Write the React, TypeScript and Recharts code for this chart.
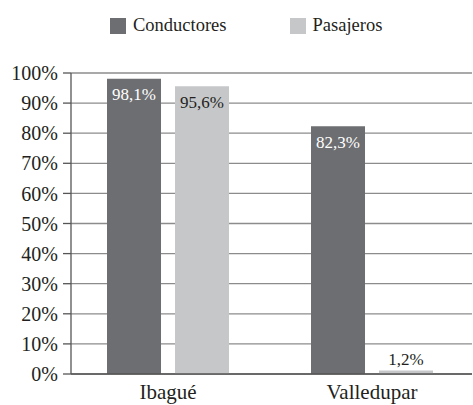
import React from 'react'
import { BarChart, Bar, XAxis, YAxis, CartesianGrid, LabelList } from 'recharts'

const categories = ['Ibagué', 'Valledupar']
const seriesNames = ['Conductores', 'Pasajeros']
const conductores = [98.1, 82.3]
const pasajeros = [95.6, 1.2]
const yTicks = [0, 10, 20, 30, 40, 50, 60, 70, 80, 90, 100]

const COLORS = ['#6d6e71', '#c6c7c9']
const LABEL_COLORS = ['#ffffff', '#231f20']
const FONT = "'Liberation Serif'"

const data = categories.map((name, i) => ({
  name,
  conductores: conductores[i],
  pasajeros: pasajeros[i],
}))

const fmt = (v: number) => `${v.toFixed(1).replace('.', ',')}%`

function makeLabel(color: string) {
  return (props: any) => {
    const { x, y, width, height, value } = props
    const cx = Number(x) + Number(width) / 2
    const small = Number(height) < 30
    const cy = small ? Number(y) - 11 : Number(y) + 16
    return (
      <text
        x={cx}
        y={cy}
        textAnchor="middle"
        dominantBaseline="central"
        fill={small ? '#231f20' : color}
        fontFamily={FONT}
        fontSize={17}
      >
        {fmt(Number(value))}
      </text>
    )
  }
}

export default function App() {
  return (
    <div style={{ position: 'absolute', left: 0, top: 0, width: 473, height: 405, background: '#fff', fontFamily: FONT }}>
      <div style={{ position: 'absolute', top: 15, left: 110, display: 'flex', alignItems: 'center', fontSize: 18.5, color: '#231f20', fontFamily: FONT }}>
        {seriesNames.map((s, i) => (
          <div key={s} style={{ display: 'flex', alignItems: 'center', marginRight: i === 0 ? 63 : 0 }}>
            <span style={{ width: 16, height: 16, background: COLORS[i], display: 'inline-block', marginRight: 7 }} />
            <span>{s}</span>
          </div>
        ))}
      </div>
      <BarChart
        width={473}
        height={405}
        data={data}
        margin={{ top: 73, right: 1, bottom: 0, left: 0 }}
        barGap={14}
        barCategoryGap="20.1%"
      >
        <CartesianGrid vertical={false} stroke="#8c8c8c" strokeWidth={1.3} />
        <XAxis
          dataKey="name"
          height={31}
          padding={{ left: -5, right: -2 }}
          tickLine={false}
          axisLine={{ stroke: '#555', strokeWidth: 1.3 }}
          tick={{ fill: '#231f20', fontSize: 21, fontFamily: FONT }}
          tickMargin={4.5}
        />
        <YAxis
          width={71}
          domain={[0, 100]}
          ticks={yTicks}
          interval={0}
          tickFormatter={(v: number) => `${v}%`}
          tickSize={8}
          tickLine={{ stroke: '#555', strokeWidth: 1.3 }}
          axisLine={{ stroke: '#555', strokeWidth: 1.3 }}
          tick={{ fill: '#231f20', fontSize: 20, fontFamily: FONT }}
          tickMargin={5}
        />
        <Bar dataKey="conductores" name={seriesNames[0]} fill={COLORS[0]} isAnimationActive={false}>
          <LabelList dataKey="conductores" content={makeLabel(LABEL_COLORS[0])} />
        </Bar>
        <Bar dataKey="pasajeros" name={seriesNames[1]} fill={COLORS[1]} isAnimationActive={false}>
          <LabelList dataKey="pasajeros" content={makeLabel(LABEL_COLORS[1])} />
        </Bar>
      </BarChart>
    </div>
  )
}
